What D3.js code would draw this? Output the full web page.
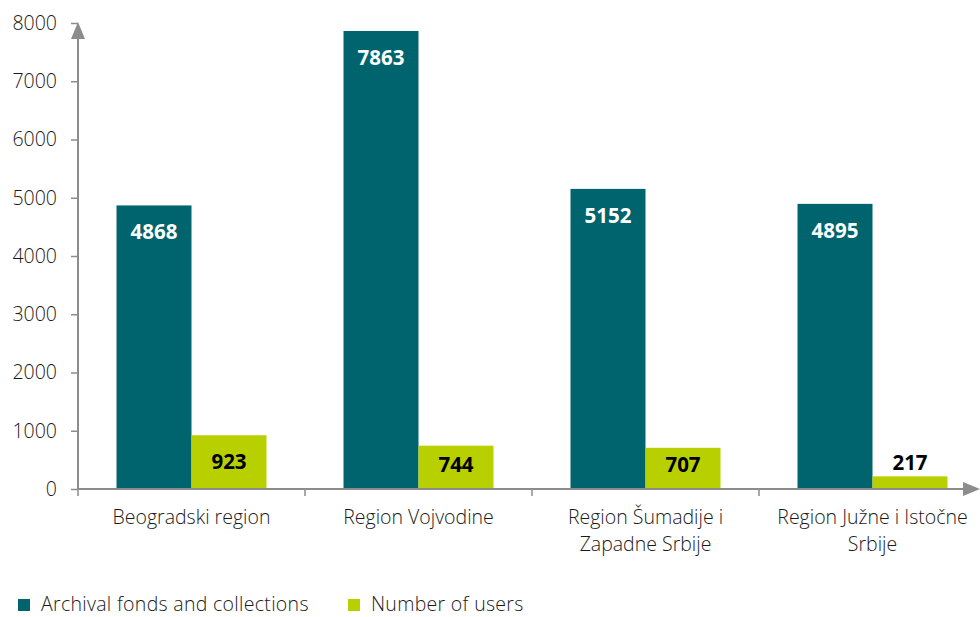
<!DOCTYPE html>
<html><head><meta charset="utf-8">
<script src="https://cdn.jsdelivr.net/npm/d3@7"></script>
<style>body{margin:0;background:#fff}svg{display:block}text{font-family:"Open Sans",sans-serif}</style>
</head><body><svg id="c" width="980" height="617"></svg>
<script>
const categories = ["Beogradski region","Region Vojvodine","Region Šumadije i Zapadne Srbije","Region Južne i Istočne Srbije"];
const categoryLines = [["Beogradski region"],["Region Vojvodine"],["Region Šumadije i","Zapadne Srbije"],["Region Južne i Istočne","Srbije"]];
const seriesNames = ["Archival fonds and collections","Number of users"];
const archival = [4868,7863,5152,4895];
const users = [923,744,707,217];
const yTicks = [0,1000,2000,3000,4000,5000,6000,7000,8000];
const colors = ["#00646e","#b8cf00"];

const svg = d3.select("#c");
const x0 = 78, x1 = 986, yTop = 23, yBot = 489;
const x = d3.scaleBand().domain(categories).range([x0,x1]).paddingInner(0).paddingOuter(0);
const y = d3.scaleLinear().domain([0,8000]).range([yBot,yTop]);
const barW = 75;
const gray = "#8c8c8c";
const txt = "#1a1a1a";
const fs = 19.5;

// bars
const series = [archival, users];
series.forEach((vals,si)=>{
  const g = svg.append("g");
  categories.forEach((c,i)=>{
    const bx = x(c) + x.bandwidth()/2 - barW + si*barW;
    const v = vals[i];
    g.append("rect").attr("x",bx).attr("y",y(v)).attr("width",barW).attr("height",yBot-y(v)).attr("fill",colors[si]);
    const h = yBot - y(v);
    const inside = h > 40;
    const base = inside ? Math.min(y(v)+34, yBot-17.5) : y(v)-6;
    g.append("text").attr("x",bx+barW/2).attr("y", base)
      .attr("text-anchor","middle").attr("font-weight","bold").attr("font-size",20.5)
      .attr("fill", si===0 ? "#ffffff" : "#000000").text(v);
  });
});

// y axis
const ya = svg.append("g").attr("transform",`translate(${x0},0)`)
  .call(d3.axisLeft(y).tickValues(yTicks).tickSize(7).tickPadding(14).tickFormat(d3.format("d")));
ya.select(".domain").remove();
ya.selectAll("line").attr("stroke",gray).attr("stroke-width",1.5);
ya.selectAll("text").attr("font-size",fs).attr("font-weight",300).attr("fill",txt).attr("font-family","'Open Sans',sans-serif");
svg.append("line").attr("x1",x0).attr("x2",x0).attr("y1",yBot).attr("y2",yTop+12).attr("stroke",gray).attr("stroke-width",2);
svg.append("path").attr("d",`M${x0-7},${yTop+16} L${x0},${yTop-1} L${x0+7},${yTop+16} Z`).attr("fill",gray);

// x axis
svg.append("line").attr("x1",x0).attr("x2",966).attr("y1",yBot).attr("y2",yBot).attr("stroke",gray).attr("stroke-width",2);
svg.append("path").attr("d",`M963,${yBot-7} L980,${yBot} L963,${yBot+7} Z`).attr("fill",gray);
categories.forEach((c,i)=>{
  const tx = x(c);
  svg.append("line").attr("x1",tx).attr("x2",tx).attr("y1",yBot).attr("y2",yBot+7).attr("stroke",gray).attr("stroke-width",1.5);
  const t = svg.append("text").attr("text-anchor","middle").attr("font-size",fs).attr("font-weight",300).attr("fill",txt);
  categoryLines[i].forEach((ln,j)=>{
    t.append("tspan").attr("x",tx+x.bandwidth()/2).attr("y",524+j*26.5).text(ln);
  });
});

// legend
const legX = [18,348];
seriesNames.forEach((n,i)=>{
  svg.append("rect").attr("x",legX[i]).attr("y",599).attr("width",12).attr("height",12).attr("fill",colors[i]);
  svg.append("text").attr("x",legX[i]+23).attr("y",611).attr("font-size",fs).attr("font-weight",300)
    .attr("letter-spacing",0.3).attr("fill",txt).text(n);
});
</script></body></html>
